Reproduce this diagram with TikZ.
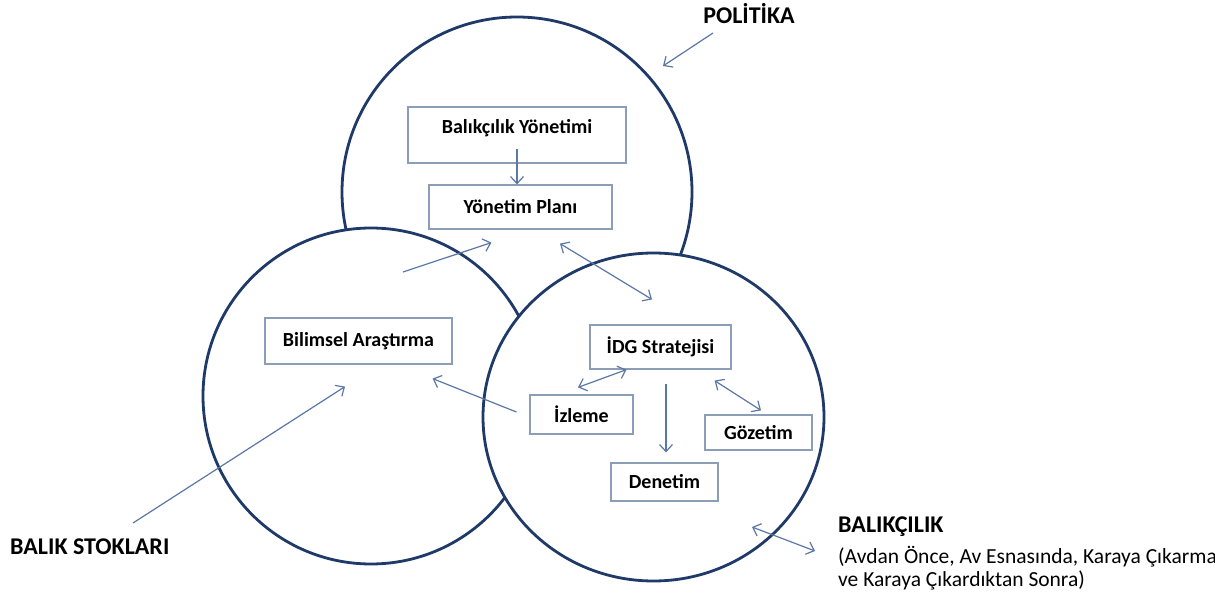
\documentclass[tikz,border=0pt]{standalone}
\usepackage{fontspec}
\setmainfont{Carlito}
\usepackage{xcolor}
\usepackage{tikz}
\usetikzlibrary{arrows.meta,calc,positioning}
\definecolor{ringblue}{HTML}{1F3A68}
\definecolor{linkblue}{HTML}{5A77A6}
\definecolor{boxgray}{HTML}{8C9DB8}
\newcommand{\boxfont}{\fontsize{20}{24}\selectfont\bfseries}
\newcommand{\tagfont}{\fontsize{24}{28}\selectfont\bfseries}
\newcommand{\notefont}{\fontsize{21.5}{23}\selectfont}

\begin{document}
\begin{tikzpicture}[
    x=1pt, y=-1pt,
    ring/.style={draw=ringblue, line width=2.8pt, fill=white},
    box/.style={draw=boxgray, line width=1.2pt, fill=white, inner sep=0, font=\boxfont},
    tag/.style={inner sep=0, font=\tagfont},
    link/.style={draw=linkblue, line width=1.2pt, -{Straight Barb[length=7pt,width=13pt]}},
    both/.style={link, {Straight Barb[length=7pt,width=13pt]}-{Straight Barb[length=7pt,width=13pt]}}]
\useasboundingbox (0,0) rectangle (1215,593);

% the three circles, each later one hides the ones before
\path[ring] (517,192) circle (175pt);
\path[ring] (371,396) circle (168pt);
\path[ring] (653.5,417) ellipse [x radius=170.5pt, y radius=164pt];

% boxes
\node (byon) [box, minimum width=218pt, text height=26.5pt, text depth=29.5pt] at (517,135) {Balıkçılık Yönetimi};
\node (yplan) [box, minimum width=183pt, minimum height=44pt] at (520.5,207) {Yönetim Planı};
\node (bilim) [box, minimum width=187pt, minimum height=46pt] at (358.5,341) {Bilimsel Araştırma};
\node (idg) [box, minimum width=141pt, minimum height=44pt] at (660.5,347) {İDG Stratejisi};
\node (izleme) [box, minimum width=103pt, minimum height=39pt] at (581.5,414.5) {İzleme};
\node (gozetim) [box, minimum width=107pt, minimum height=35pt] at (758.5,432.5) {Gözetim};
\node (denetim) [box, minimum width=107pt, minimum height=38pt] at (664.5,482) {Denetim};

% outside labels
\node (politika) [tag] at (749,14) {POLİTİKA};
\node (stoklar) [tag, anchor=west] at (10,547) {BALIK STOKLARI};
\node (balikcilik) [tag, anchor=west] at (838,527) {BALIKÇILIK};
\node (asamalar) [below=9pt of balikcilik.south west, anchor=north west, inner sep=0, align=left, font=\notefont]
    {(Avdan Önce, Av Esnasında, Karaya Çıkarma\\ve Karaya Çıkardıktan Sonra)};

% free ends
\coordinate (pol-tail) at (713,33);
\coordinate (pol-head) at (663,66);
\coordinate (bil-tail) at (403,272);
\coordinate (stok-tail) at (133,523);
\coordinate (bal-in) at (752,527);
\coordinate (bal-out) at (815,551);

\draw[link] ([yshift=15pt]byon.south) -- (byon.south |- yplan.north);
\draw[link] (bil-tail) -- ([shift={(63,13)}]yplan.south west);
\draw[both] ([shift={(39.5,14)}]yplan.south) -- ([shift={(-8.5,-25)}]idg.north);
\draw[link] (stok-tail) -- ([shift={(-13.5,22)}]bilim.south);
\draw[link] ([shift={(-13,-2.5)}]izleme.west) -- ([shift={(-20,14)}]bilim.south east);
\draw[both] ([shift={(-3.5,-7)}]izleme.north) -- ([xshift=-34pt]idg.south);
\draw[link] ([shift={(5.5,14)}]idg.south) -- ([shift={(1.5,-10)}]denetim.north);
\draw[both] ([shift={(-17,11)}]idg.south east) -- ([shift={(2.5,-4)}]gozetim.north);
\draw[both] (bal-in) -- (bal-out);
\draw[link] (pol-tail) -- (pol-head);

\end{tikzpicture}
\end{document}
